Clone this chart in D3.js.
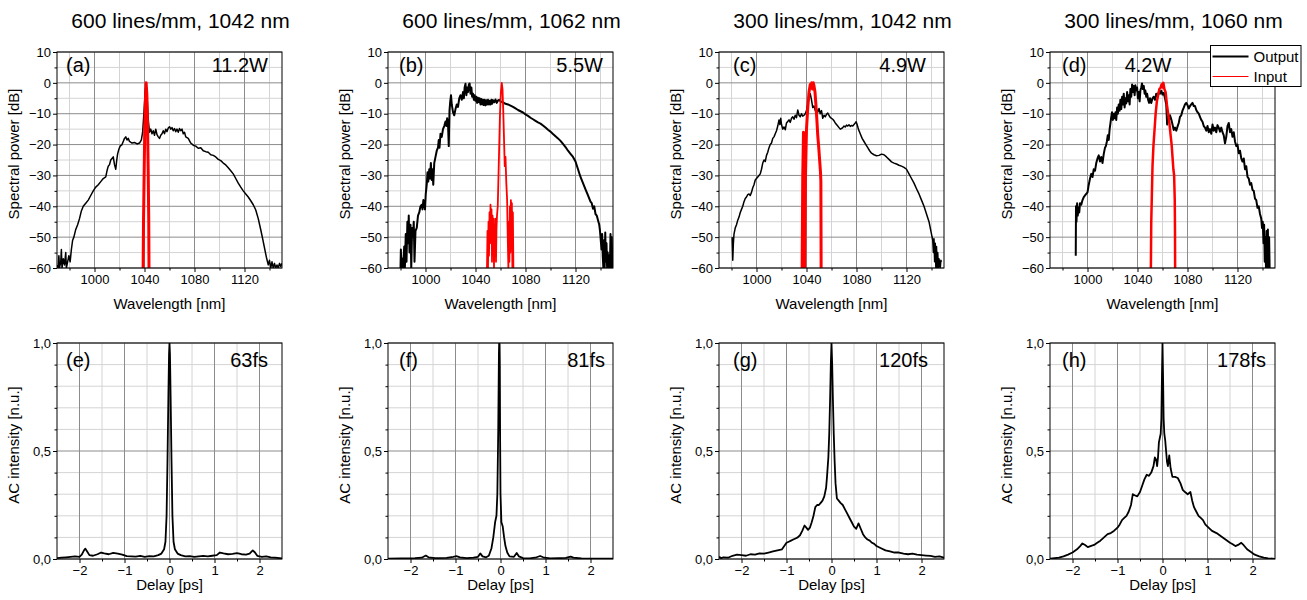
<!DOCTYPE html>
<html>
<head>
<meta charset="UTF-8">
<title>Spectra and autocorrelations</title>
<script src="https://d3js.org/d3.v7.min.js"></script>
<style>
  body { margin: 0; background: #fff; }
  text { font-family: "Liberation Sans", Arial, sans-serif; fill: #000; }
</style>
</head>
<body>
<svg id="chart" width="1307" height="600"></svg>
<script>
// ---- panel texts ----
const titles = ["600 lines/mm, 1042 nm", "600 lines/mm, 1062 nm", "300 lines/mm, 1042 nm", "300 lines/mm, 1060 nm"];
const specLetters = ["(a)", "(b)", "(c)", "(d)"];
const powers = ["11.2W", "5.5W", "4.9W", "4.2W"];
const acLetters = ["(e)", "(f)", "(g)", "(h)"];
const durations = ["63fs", "81fs", "120fs", "178fs"];
const legendNames = ["Output", "Input"];

// ---- ticks ----
const wlTicks = [1000, 1040, 1080, 1120];
const wlMinor = [980, 1020, 1060, 1100, 1140];
const dbTicks = [10, 0, -10, -20, -30, -40, -50, -60];
const dbMinor = [5, -5, -15, -25, -35, -45, -55];
const delayTicks = [-2, -1, 0, 1, 2];
const delayMinor = [-1.5, -0.5, 0.5, 1.5];
const acTicks = [0, 0.5, 1];
const acMinor = [0.1, 0.2, 0.3, 0.4, 0.6, 0.7, 0.8, 0.9];

// ---- spectra [nm, dB] ----
const specA_out = [[970,-59],[971,-60],[971.5,-56],[972,-60],[973,-58],[973.5,-54],[974,-60],[975,-57],[976,-59],[977,-55],[977.5,-60],[978.5,-58],[979.5,-56],[980.5,-58],[981.5,-54],[982.5,-51],[983.5,-50],[985,-47.5],[986.5,-46],[988,-44],[989.5,-41.5],[991,-40],[993,-39],[995,-38],[997,-36.5],[999,-35],[1001,-33.8],[1003,-33],[1005,-32],[1007,-31],[1009,-30.5],[1010,-28.5],[1011,-27],[1012,-26.5],[1013,-25],[1014,-24.5],[1015,-24],[1016,-26.5],[1017,-28],[1017.8,-25],[1018.5,-23],[1019.5,-21.5],[1020.5,-20.5],[1022,-20],[1023,-19],[1024,-18],[1025,-17.5],[1026,-18.5],[1027,-18],[1028,-19],[1030,-19.5],[1032,-19.3],[1034,-19.8],[1036,-19.5],[1037.5,-18.5],[1038.5,-16],[1039.5,-10],[1040.5,-3],[1041.3,-0.5],[1042,-4],[1043,-12],[1044,-16],[1045,-15],[1046,-16.5],[1047,-15.5],[1048,-17],[1049,-15],[1050,-16.8],[1051,-17.5],[1052,-18],[1053,-17],[1054,-16.5],[1055,-15.5],[1056,-16.5],[1057,-15],[1058,-15.8],[1059,-14.6],[1060,-14.2],[1061,-15],[1062,-14.5],[1063,-15.5],[1064,-14.8],[1065,-15.8],[1066,-15],[1067,-16],[1068,-14.8],[1069,-15.5],[1070,-15],[1071,-16.5],[1072,-16],[1073,-17.5],[1075,-18],[1077,-19.5],[1079,-20.2],[1081,-20.5],[1083,-21.2],[1085,-21],[1087,-22],[1089,-22.3],[1091,-22.5],[1093,-23.3],[1095,-23.5],[1097,-24],[1099,-24.8],[1101,-25.2],[1103,-26],[1105,-26.6],[1107,-27.5],[1109,-28.5],[1111,-29.5],[1113,-31],[1115,-32.5],[1117,-33.8],[1119,-35],[1121,-36],[1123,-37],[1125,-38.2],[1127,-39.5],[1129,-41.2],[1131,-44],[1133,-47.6],[1134.5,-50.5],[1136,-53.5],[1137.5,-56.5],[1139,-59],[1140,-57.5],[1141,-60],[1142,-58],[1143,-60],[1144,-58.5],[1145,-60],[1146,-59],[1147,-60],[1148,-58.5],[1149,-59.5],[1150,-58.5]];
const specA_in = [[1038.9,-60],[1039.2,-45],[1039.7,-30],[1040.2,-15],[1040.8,-5],[1041.3,0],[1041.9,-4],[1042.5,-15],[1043,-30],[1043.4,-45],[1043.6,-60]];

const specB_out = [[980,-60],[980.3,-54],[980.7,-60],[981.5,-57],[982,-60],[983,-53],[983.5,-60],[984.2,-49],[984.8,-58],[985.5,-45],[986,-52],[986.6,-43],[987.2,-55],[988,-46],[988.6,-60],[989.3,-47],[990,-50],[990.6,-45],[991.2,-58],[992,-48],[993,-47],[994,-43],[995,-42],[996,-40],[997,-39.5],[997.6,-41],[998.3,-38],[999,-39],[999.6,-41],[1000.2,-36],[1001,-33],[1001.6,-29],[1002.2,-32],[1003,-28],[1003.6,-31],[1004.3,-26],[1005,-31.5],[1005.6,-28],[1006.2,-33],[1007,-26],[1008,-24],[1009,-22],[1010,-21],[1010.6,-18.5],[1011.2,-21],[1012,-16.5],[1013,-17.5],[1014,-15],[1015,-14],[1016,-12.5],[1016.7,-14],[1017.3,-11.5],[1018,-13],[1018.6,-20.5],[1019.2,-9],[1019.8,-6],[1020.4,-4],[1021,-7],[1022,-9.5],[1023,-10.5],[1024,-8.5],[1025,-7],[1026,-7.8],[1027,-5],[1028,-4],[1029,-5.5],[1030,-3],[1030.7,-5],[1031.3,-1.5],[1032,-0.3],[1032.7,-4],[1033.3,-1.5],[1034,-3],[1034.7,-0.5],[1035.3,-0.2],[1036,-3.5],[1036.7,-1.5],[1037.3,-4.5],[1038,-3.5],[1038.7,-5.5],[1039.3,-4],[1040,-5.8],[1040.7,-4.5],[1041.3,-6.5],[1042,-4.8],[1042.7,-6.3],[1043.3,-5],[1044,-7],[1044.7,-5.2],[1045.3,-7],[1046,-5.5],[1046.7,-7.2],[1047.3,-5.5],[1048,-7.3],[1048.7,-5.6],[1049.3,-7],[1050,-5.5],[1050.7,-7],[1051.3,-5.8],[1052,-7],[1052.7,-5.5],[1053.3,-6.8],[1054,-5.6],[1055,-6.3],[1056,-5.4],[1057,-6.5],[1058,-5.7],[1059,-5.5],[1060,-6],[1062,-6.3],[1064,-6.8],[1066,-7],[1068,-7.4],[1070,-7.8],[1072,-8.3],[1074,-8.8],[1076,-9.2],[1078,-9.6],[1080,-10.2],[1082,-10.7],[1084,-11.3],[1086,-11.8],[1088,-12.3],[1090,-12.8],[1092,-13.2],[1094,-13.8],[1096,-14.5],[1098,-15.2],[1100,-15.8],[1102,-16.6],[1104,-17.3],[1106,-18],[1108,-18.8],[1110,-19.8],[1112,-20.8],[1114,-22],[1116,-23],[1118,-24],[1120,-25.5],[1122,-28],[1124,-30.5],[1126,-32.5],[1128,-34.5],[1130,-36.5],[1132,-38.5],[1133,-39],[1134,-40.8],[1135,-40],[1136,-42.5],[1137,-43],[1138,-44.5],[1139,-46],[1139.6,-48],[1140.2,-51],[1140.8,-54],[1141.3,-49],[1141.8,-56],[1142.3,-60],[1142.8,-51],[1143.3,-60],[1143.8,-48.5],[1144.3,-58],[1144.8,-52],[1145.3,-60],[1145.8,-55],[1146.3,-60],[1146.8,-56],[1147.5,-60],[1148,-49],[1148.5,-60],[1149,-50],[1149.5,-60],[1150,-57]];
const specB_in = [[1049.2,-60],[1049.6,-48],[1050,-60],[1050.4,-45],[1050.8,-56],[1051.2,-42],[1051.6,-52],[1052,-39.5],[1052.4,-50],[1052.8,-41],[1053.2,-58],[1053.6,-43],[1054,-49],[1054.4,-44],[1054.8,-60],[1055.2,-46],[1055.6,-52],[1056,-44],[1056.4,-58],[1056.8,-47],[1057.2,-43],[1057.8,-40],[1058.4,-30],[1059,-20],[1059.6,-10],[1060.3,-3],[1061,0],[1061.6,-2],[1062.2,-9],[1062.8,-18],[1063.4,-27],[1064,-24],[1064.6,-32],[1065.3,-38],[1065.8,-50],[1066.3,-60],[1066.7,-45],[1067.1,-58],[1067.5,-40],[1067.9,-55],[1068.3,-38],[1068.7,-52],[1069.1,-39],[1069.5,-60],[1069.9,-42],[1070.3,-60]];

const specC_out = [[980.5,-50],[981,-57.5],[981.5,-52],[982,-49],[983,-47],[984,-46],[985,-44.5],[986,-43.5],[987,-42],[988,-41],[989,-40],[990,-38.5],[991,-37.5],[992,-37],[993,-36.2],[994,-36],[995,-36.5],[996,-35.5],[997,-34],[998,-33],[999,-31.5],[1000,-31],[1001,-30.5],[1002,-30],[1003,-29.5],[1004,-28],[1005,-26],[1006,-25],[1007,-25.5],[1008,-23.5],[1009,-22.5],[1010,-21],[1011,-20],[1012,-19.5],[1013,-18],[1014,-17.5],[1015,-16.5],[1016,-15.5],[1017,-14],[1018,-12],[1018.7,-13.5],[1019.4,-11.5],[1020,-13.5],[1021,-15],[1022,-14.3],[1023,-15.2],[1024,-13],[1025,-12.5],[1026,-12],[1027,-12.8],[1028,-11.5],[1029,-11],[1030,-11.8],[1031,-10.5],[1032,-11.3],[1033,-8.8],[1034,-10.5],[1035,-11],[1036,-10],[1037,-10.8],[1038,-10.5],[1039,-10],[1040,-9],[1041,-7],[1042,-5],[1043,-3.5],[1044,-5.5],[1045,-8],[1046,-7.5],[1047,-9],[1048,-8.5],[1049,-9.5],[1050,-8.3],[1051,-10],[1052,-9],[1053,-11.5],[1054,-10.5],[1055,-11],[1056,-10.2],[1057,-9.8],[1058,-10.5],[1059,-11.2],[1060,-11.5],[1061,-11.8],[1062,-12.3],[1063,-13],[1064,-13.5],[1065,-14],[1066,-14.5],[1067,-15],[1068,-14.8],[1069,-14.5],[1070,-14],[1071,-14.3],[1072,-13.7],[1073,-14],[1074,-13.6],[1075,-14.1],[1076,-13.8],[1077,-14],[1078,-13.5],[1079,-13],[1079.7,-12.6],[1080.5,-13.5],[1081.5,-15],[1083,-16.5],[1084.5,-18],[1086,-19],[1087.5,-20],[1089,-21],[1090.5,-22],[1092,-22.8],[1094,-23.3],[1096,-23.6],[1098,-23.5],[1100,-23.1],[1102,-23.3],[1104,-24],[1106,-24.8],[1108,-25.6],[1110,-26],[1112,-26.3],[1114,-26.7],[1116,-27],[1118,-27.4],[1120,-28],[1122,-29.5],[1124,-31],[1126,-32.5],[1128,-34.3],[1130,-36],[1132,-38],[1134,-40],[1136,-42.5],[1138,-45],[1139,-47],[1140,-49],[1141,-51],[1141.5,-55],[1142,-50.5],[1142.5,-58],[1143,-52],[1143.5,-60],[1144,-53],[1144.5,-60],[1145,-55],[1145.5,-60],[1146,-57],[1147,-60],[1147.5,-57.5],[1148,-58]];
const specC_in = [[1036.5,-60],[1037,-30],[1037.6,-16],[1038.2,-40],[1038.6,-60],[1039.2,-30],[1040,-15],[1041,-8],[1042,-3],[1043,-0.5],[1043.6,-1.5],[1044.2,0],[1044.8,-2],[1045.4,0],[1046,-1],[1046.8,-3],[1047.5,-7],[1048.3,-12],[1049,-17],[1049.8,-21],[1050.5,-25],[1051.2,-29],[1051.5,-32],[1051.6,-45],[1051.7,-60]];

const specD_out = [[990.6,-56],[990.8,-40],[991.2,-45],[991.7,-39],[992.2,-43],[992.8,-40.5],[993.4,-42],[994,-39],[995,-39.5],[996,-38],[997,-37],[998,-36.5],[999,-36],[1000,-35.5],[1001,-33],[1002,-31],[1003,-29.5],[1004,-30.5],[1005,-28],[1006,-28.5],[1007,-26],[1008,-24.5],[1009,-23.5],[1010,-25.5],[1011,-24],[1012,-26],[1013,-23],[1014,-21],[1014.7,-20.5],[1015.5,-19],[1016.2,-17],[1017,-18.5],[1017.7,-15],[1018.4,-13],[1019,-11],[1019.6,-9.5],[1020.3,-12],[1021,-10],[1021.7,-11.5],[1022.4,-9.5],[1023,-12],[1023.7,-8],[1024.3,-10],[1025,-7],[1025.7,-9],[1026.3,-5.5],[1027,-8.5],[1027.7,-4.5],[1028.3,-7],[1029,-3.5],[1029.7,-8],[1030.3,-5],[1031,-6.7],[1031.7,-3],[1032.3,-6],[1033,-4],[1033.7,-7],[1034.3,-2],[1035,-4.5],[1035.7,-0.5],[1036.3,-3],[1037,-1],[1037.7,-4],[1038.3,-0.8],[1039,-2.5],[1039.7,-1.5],[1040.3,-5],[1041,-3],[1041.7,-6],[1042.3,-2.5],[1043,-1.5],[1043.6,-0.2],[1044.3,-2],[1045,-1],[1045.7,-3.5],[1046.3,-2.5],[1047,-4.5],[1047.7,-3.5],[1048.5,-5.5],[1049.3,-6.5],[1050,-5],[1051,-6.5],[1052,-5],[1053,-4.5],[1054,-5.5],[1055,-3.5],[1056,-4.5],[1057,-3],[1058,-3.5],[1059,-2.5],[1060,-3.8],[1061,-3.2],[1062,-5],[1063,-7],[1063.7,-13.5],[1064.4,-11],[1065,-12.5],[1066,-10.5],[1067,-11.8],[1068,-13.5],[1069,-15.3],[1070,-14.5],[1071,-15.5],[1072,-14.2],[1073,-13],[1074,-11],[1075,-10.5],[1076,-9],[1077,-8],[1078,-7],[1079,-6.5],[1080,-7.2],[1081,-8.3],[1082,-7.5],[1083,-7],[1084,-6.5],[1085,-7.5],[1086,-7.5],[1087,-8.8],[1088,-9.5],[1089,-10],[1090,-11],[1091,-12],[1092,-12.6],[1093,-14],[1094,-14.5],[1095,-15.5],[1096,-14],[1097,-16],[1098,-15],[1099,-16.5],[1100,-13.5],[1101,-15.5],[1102,-14.5],[1103,-16],[1104,-13.7],[1105,-14.5],[1106,-15.8],[1107,-14.5],[1108,-16],[1109,-17],[1110,-19.6],[1111,-17.5],[1112,-14],[1113,-13],[1114,-16],[1115,-15],[1116,-17.5],[1117,-16],[1118,-19],[1119,-20.5],[1120,-20],[1121,-22.8],[1122,-22],[1123,-24.5],[1124,-25.5],[1125,-24.5],[1126,-28],[1127,-27],[1128,-30.5],[1129,-31],[1130,-33],[1131,-32.5],[1132,-34.7],[1133,-35],[1134,-37.5],[1135,-38],[1136,-40.5],[1137,-40],[1138,-42.5],[1139,-44],[1139.6,-47],[1140.2,-45],[1140.8,-52],[1141.3,-46],[1141.8,-58],[1142.3,-50],[1142.8,-60],[1143.3,-48],[1143.8,-60],[1144.3,-47.5],[1144.8,-60],[1145.3,-50],[1145.7,-60]];
const specD_in = [[1050.7,-60],[1051,-45],[1051.4,-38],[1052,-27],[1052.8,-20],[1053.5,-16],[1054.5,-10],[1055.5,-6],[1056.5,-4],[1057.5,-2],[1058.5,-1.5],[1059.3,-0.5],[1060,-1.5],[1060.7,0],[1061.5,-2],[1062.5,-3],[1063.5,-7],[1064.5,-10],[1065.5,-13],[1066.5,-17],[1067.3,-20],[1068,-24],[1068.7,-28],[1069.3,-30],[1069.8,-38],[1070,-48],[1070.1,-60]];

// ---- autocorrelations [ps, n.u.] ----
const acE = [[-2.5,0.004],[-2.4,0.006],[-2.3,0.008],[-2.2,0.01],[-2.1,0.012],[-2.0,0.01],[-1.95,0.02],[-1.9,0.04],[-1.87,0.048],[-1.83,0.035],[-1.78,0.018],[-1.7,0.015],[-1.6,0.022],[-1.52,0.03],[-1.45,0.026],[-1.35,0.022],[-1.25,0.028],[-1.15,0.025],[-1.05,0.02],[-0.95,0.013],[-0.85,0.012],[-0.75,0.011],[-0.65,0.014],[-0.55,0.01],[-0.45,0.013],[-0.35,0.012],[-0.25,0.018],[-0.18,0.025],[-0.12,0.045],[-0.09,0.08],[-0.065,0.2],[-0.045,0.45],[-0.025,0.75],[-0.01,0.95],[0,1.0],[0.01,0.95],[0.025,0.75],[0.045,0.45],[0.065,0.2],[0.09,0.08],[0.12,0.045],[0.18,0.025],[0.25,0.018],[0.35,0.012],[0.45,0.013],[0.55,0.01],[0.65,0.012],[0.75,0.014],[0.85,0.012],[0.95,0.015],[1.05,0.018],[1.12,0.03],[1.2,0.026],[1.3,0.022],[1.4,0.024],[1.5,0.027],[1.6,0.022],[1.7,0.02],[1.78,0.025],[1.85,0.04],[1.9,0.03],[1.95,0.015],[2.05,0.01],[2.15,0.012],[2.25,0.008],[2.35,0.006],[2.5,0.003]];
const acF = [[-2.5,0.002],[-2.2,0.003],[-1.9,0.004],[-1.75,0.006],[-1.66,0.016],[-1.6,0.008],[-1.45,0.004],[-1.2,0.005],[-1.05,0.01],[-0.98,0.013],[-0.9,0.008],[-0.75,0.004],[-0.6,0.006],[-0.5,0.01],[-0.45,0.026],[-0.4,0.012],[-0.32,0.008],[-0.26,0.015],[-0.2,0.05],[-0.16,0.1],[-0.12,0.17],[-0.09,0.2],[-0.07,0.3],[-0.05,0.6],[-0.035,0.95],[-0.03,1.0],[-0.02,0.9],[-0.01,0.6],[0.0,0.3],[0.02,0.17],[0.05,0.15],[0.08,0.1],[0.11,0.06],[0.15,0.03],[0.2,0.012],[0.3,0.01],[0.36,0.028],[0.41,0.012],[0.5,0.004],[0.65,0.003],[0.8,0.008],[0.88,0.014],[0.95,0.008],[1.1,0.003],[1.3,0.004],[1.45,0.005],[1.56,0.011],[1.62,0.006],[1.8,0.003],[2.1,0.002],[2.5,0.002]];
const acG = [[-2.5,0.01],[-2.45,0.004],[-2.4,0.008],[-2.3,0.006],[-2.2,0.015],[-2.1,0.02],[-2.0,0.018],[-1.9,0.015],[-1.8,0.022],[-1.7,0.02],[-1.6,0.026],[-1.5,0.025],[-1.4,0.03],[-1.3,0.035],[-1.2,0.04],[-1.1,0.045],[-1.05,0.06],[-1.0,0.075],[-0.95,0.08],[-0.9,0.085],[-0.85,0.09],[-0.8,0.095],[-0.75,0.1],[-0.7,0.11],[-0.65,0.13],[-0.6,0.155],[-0.56,0.145],[-0.52,0.135],[-0.48,0.145],[-0.44,0.17],[-0.4,0.2],[-0.36,0.24],[-0.32,0.25],[-0.28,0.25],[-0.24,0.26],[-0.2,0.27],[-0.16,0.29],[-0.12,0.33],[-0.1,0.38],[-0.07,0.47],[-0.05,0.58],[-0.03,0.75],[-0.015,0.9],[0,1.0],[0.015,0.9],[0.03,0.75],[0.05,0.58],[0.07,0.45],[0.09,0.35],[0.12,0.28],[0.16,0.27],[0.2,0.26],[0.25,0.25],[0.3,0.23],[0.35,0.21],[0.4,0.19],[0.45,0.17],[0.5,0.15],[0.55,0.14],[0.6,0.165],[0.65,0.14],[0.7,0.115],[0.75,0.1],[0.8,0.09],[0.85,0.085],[0.9,0.075],[0.95,0.07],[1.0,0.06],[1.1,0.05],[1.2,0.04],[1.3,0.035],[1.4,0.03],[1.5,0.03],[1.6,0.025],[1.7,0.022],[1.8,0.025],[1.9,0.02],[2.0,0.018],[2.1,0.016],[2.2,0.014],[2.3,0.01],[2.4,0.012],[2.5,0.006]];
const acH = [[-2.5,0.002],[-2.4,0.004],[-2.3,0.006],[-2.2,0.012],[-2.1,0.02],[-2.0,0.03],[-1.9,0.045],[-1.83,0.06],[-1.78,0.072],[-1.72,0.065],[-1.66,0.055],[-1.6,0.06],[-1.52,0.065],[-1.45,0.075],[-1.38,0.085],[-1.3,0.1],[-1.22,0.115],[-1.15,0.12],[-1.08,0.13],[-1.0,0.145],[-0.95,0.16],[-0.9,0.18],[-0.85,0.19],[-0.8,0.2],[-0.75,0.22],[-0.7,0.25],[-0.66,0.3],[-0.62,0.295],[-0.56,0.29],[-0.5,0.31],[-0.45,0.34],[-0.4,0.37],[-0.35,0.39],[-0.3,0.385],[-0.25,0.4],[-0.2,0.43],[-0.17,0.47],[-0.14,0.46],[-0.12,0.43],[-0.1,0.47],[-0.08,0.54],[-0.06,0.56],[-0.04,0.58],[-0.025,0.65],[-0.012,0.85],[0,1.0],[0.012,0.85],[0.025,0.65],[0.04,0.58],[0.06,0.55],[0.08,0.5],[0.1,0.45],[0.12,0.43],[0.15,0.48],[0.18,0.42],[0.22,0.38],[0.28,0.38],[0.34,0.375],[0.4,0.35],[0.45,0.32],[0.5,0.31],[0.56,0.3],[0.62,0.31],[0.66,0.27],[0.7,0.24],[0.75,0.22],[0.8,0.2],[0.85,0.19],[0.9,0.18],[0.95,0.16],[1.0,0.15],[1.1,0.13],[1.2,0.12],[1.3,0.105],[1.4,0.09],[1.5,0.075],[1.56,0.068],[1.62,0.06],[1.68,0.065],[1.75,0.075],[1.8,0.065],[1.88,0.045],[1.95,0.035],[2.05,0.02],[2.15,0.012],[2.25,0.006],[2.35,0.003],[2.5,0.001]];

const specOut = [specA_out, specB_out, specC_out, specD_out];
const specIn = [specA_in, specB_in, specC_in, specD_in];
const acData = [acE, acF, acG, acH];

// ---- layout ----
const COL_X = [57, 388, 719, 1050];
const PW = 225, PH = 216;
const TOP_Y = 52, BOT_Y = 343;
const LETTER_DX = [9, 11, 14, 12];
const POWER_DX = [14, 10, 18];      // distance from right frame edge
const FS_DX = [14, 8, 16, 9];
const OUT_W = [1.5, 2, 1.5, 2];
const IN_W = [3, 1.8, 3, 2.5];
const MAJOR_GRID = "#8c8c8c", MINOR_GRID = "#d4d4d4";

const svg = d3.select("#chart");

const commaFmt = d => d3.format(".1f")(d).replace(".", ",");

function drawFrame(g, x, y, xt, xm, yt, ym, yFmt) {
  // grid first
  g.append("g").selectAll("line").data(xm).join("line")
    .attr("x1", d => x(d)).attr("x2", d => x(d)).attr("y1", 0).attr("y2", PH)
    .attr("stroke", MINOR_GRID);
  g.append("g").selectAll("line").data(ym).join("line")
    .attr("y1", d => y(d)).attr("y2", d => y(d)).attr("x1", 0).attr("x2", PW)
    .attr("stroke", MINOR_GRID);
  g.append("g").selectAll("line").data(xt).join("line")
    .attr("x1", d => x(d)).attr("x2", d => x(d)).attr("y1", 0).attr("y2", PH)
    .attr("stroke", MAJOR_GRID);
  g.append("g").selectAll("line").data(yt).join("line")
    .attr("y1", d => y(d)).attr("y2", d => y(d)).attr("x1", 0).attr("x2", PW)
    .attr("stroke", MAJOR_GRID);

  // axes
  g.append("g").attr("transform", `translate(0,${PH})`)
    .call(d3.axisBottom(x).tickValues(xt).tickSize(4).tickPadding(3).tickFormat(d3.format("")));
  g.append("g").attr("transform", `translate(0,${PH})`)
    .call(d3.axisBottom(x).tickValues(xm).tickSize(2.5).tickFormat(""));
  g.append("g")
    .call(d3.axisLeft(y).tickValues(yt).tickSize(4).tickPadding(2).tickFormat(yFmt));
  g.append("g").call(d3.axisLeft(y).tickValues(ym).tickSize(2.5).tickFormat(""));
  g.selectAll(".domain").remove();
  g.selectAll(".tick line").attr("stroke", "#000");
  g.selectAll(".tick text").style("font-size", "13px").style("font-family", '"Liberation Sans", Arial, sans-serif');
}

function clipFor(id) {
  svg.append("clipPath").attr("id", id).append("rect").attr("width", PW).attr("height", PH);
  return `url(#${id})`;
}

// ---- spectra row ----
for (let i = 0; i < 4; i++) {
  const g = svg.append("g").attr("transform", `translate(${COL_X[i]},${TOP_Y})`);
  const x = d3.scaleLinear().domain([970, 1150]).range([0, PW]);
  const y = d3.scaleLinear().domain([-60, 10]).range([PH, 0]);
  drawFrame(g, x, y, wlTicks, wlMinor, dbTicks, dbMinor, d3.format(""));

  const line = d3.line().x(d => x(d[0])).y(d => y(d[1]));
  const plot = g.append("g").attr("clip-path", clipFor("clipS" + i));
  plot.append("path").datum(specOut[i]).attr("d", line)
    .attr("fill", "none").attr("stroke", "#000").attr("stroke-width", OUT_W[i]).attr("stroke-linejoin", "round");
  plot.append("path").datum(specIn[i]).attr("d", line)
    .attr("fill", "none").attr("stroke", "#ff0000").attr("stroke-width", IN_W[i]).attr("stroke-linejoin", "round");

  g.append("rect").attr("width", PW).attr("height", PH).attr("fill", "none").attr("stroke", "#000");

  svg.append("text").attr("x", COL_X[i] + PW / 2 + 11).attr("y", 27.5)
    .attr("text-anchor", "middle").style("font-size", "21px").text(titles[i]);

  g.append("text").attr("x", LETTER_DX[i]).attr("y", 20).style("font-size", "20px").text(specLetters[i]);
  if (i < 3) {
    g.append("text").attr("x", PW - POWER_DX[i]).attr("y", 20).attr("text-anchor", "end")
      .style("font-size", "20px").text(powers[i]);
  } else {
    g.append("text").attr("x", 98).attr("y", 20).attr("text-anchor", "middle")
      .style("font-size", "20px").text(powers[i]);
  }

  g.append("text").attr("x", PW / 2).attr("y", PH + 40.5).attr("text-anchor", "middle")
    .style("font-size", "15px").text("Wavelength [nm]");
  g.append("text").attr("transform", `translate(-43,${PH / 2 - 6}) rotate(-90)`)
    .attr("dy", "0.35em").attr("text-anchor", "middle")
    .style("font-size", "15px").text("Spectral power [dB]");
}

// ---- legend in (d) ----
const leg = svg.append("g").attr("transform", "translate(1210.5,45.5)");
leg.append("rect").attr("width", 90.5).attr("height", 41).attr("fill", "#fff").attr("stroke", "#000");
const legColors = ["#000", "#ff0000"];
const legWidths = [2, 1.2];
legendNames.forEach((name, k) => {
  leg.append("line").attr("x1", 2).attr("x2", 38).attr("y1", 11 + k * 20).attr("y2", 11 + k * 20)
    .attr("stroke", legColors[k]).attr("stroke-width", legWidths[k]);
  leg.append("text").attr("x", 43).attr("y", 16.5 + k * 20).style("font-size", "15px").text(name);
});

// ---- autocorrelation row ----
for (let i = 0; i < 4; i++) {
  const g = svg.append("g").attr("transform", `translate(${COL_X[i]},${BOT_Y})`);
  const x = d3.scaleLinear().domain([-2.5, 2.5]).range([0, PW]);
  const y = d3.scaleLinear().domain([0, 1]).range([PH, 0]);
  drawFrame(g, x, y, delayTicks, delayMinor, acTicks, acMinor, commaFmt);

  const line = d3.line().x(d => x(d[0])).y(d => y(d[1]));
  g.append("g").attr("clip-path", clipFor("clipA" + i))
    .append("path").datum(acData[i]).attr("d", line)
    .attr("fill", "none").attr("stroke", "#000").attr("stroke-width", 1.8).attr("stroke-linejoin", "round");

  g.append("rect").attr("width", PW).attr("height", PH).attr("fill", "none").attr("stroke", "#000");

  g.append("text").attr("x", LETTER_DX[i]).attr("y", 24).style("font-size", "20px").text(acLetters[i]);
  g.append("text").attr("x", PW - FS_DX[i]).attr("y", 24).attr("text-anchor", "end")
    .style("font-size", "20px").text(durations[i]);

  g.append("text").attr("x", PW / 2).attr("y", PH + 31).attr("text-anchor", "middle")
    .style("font-size", "15px").text("Delay [ps]");
  g.append("text").attr("transform", `translate(-43,${PH / 2 - 6}) rotate(-90)`)
    .attr("dy", "0.35em").attr("text-anchor", "middle")
    .style("font-size", "15px").text("AC intensity [n.u.]");
}
</script>
</body>
</html>
